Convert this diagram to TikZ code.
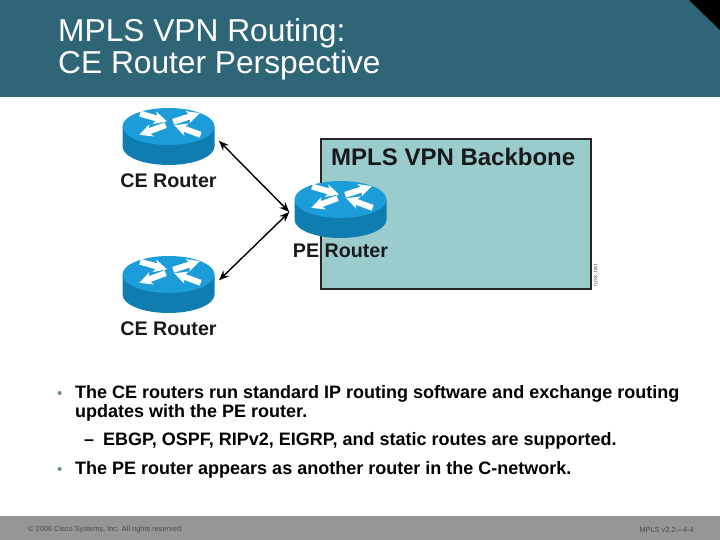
\documentclass[tikz,border=0pt]{standalone}
\usepackage{fontspec}
\setmainfont{Liberation Sans}
\usetikzlibrary{positioning,calc,arrows.meta}
\definecolor{headteal}{HTML}{2F6677}
\definecolor{footgray}{HTML}{969696}
\definecolor{footink}{HTML}{4A4A4A}
\definecolor{coreteal}{HTML}{9ACCCE}
\definecolor{routertop}{HTML}{1C9DD9}
\definecolor{routerside}{HTML}{0F7DB0}
\definecolor{dotgray}{HTML}{6F8A94}
\tikzset{
  routerbox/.style={minimum width=92pt, minimum height=58pt, inner sep=0pt},
  routerlabel/.style={font=\fontsize{19.7}{21}\selectfont\bfseries, inner sep=0pt, text=black!90},
  routerarrow/.style={fill=white, draw=none},
  link/.style={{Stealth[length=10pt,width=8pt]}-{Stealth[length=10pt,width=8pt]}, line width=1.4pt, shorten <=6pt, shorten >=0pt},
  bullettext/.style={font=\fontsize{18}{20}\selectfont\bfseries, anchor=base west, inner sep=0pt, text=black},
  bulletdot/.style={font=\fontsize{15}{15}\selectfont, anchor=base west, inner sep=0pt, text=dotgray},
  foottext/.style={font=\fontsize{7.4}{8}\selectfont, text=footink, anchor=west, inner sep=0pt},
}
% one white arrow on the router top, pointing along +x before rotation
\newcommand{\routerglyph}[3]{%
  \fill[routerarrow, shift={(#1,#2)}, rotate=#3]
    (-14,-3) -- (3,-3) -- (1,-6.5) -- (14,0) -- (1,6.5) -- (3,3) -- (-14,3) -- cycle;}
\newcommand{\router}[3]{%
  \node[routerbox] (#1) at (#2,#3) {};
  \begin{scope}[shift={(#2,#3)}]
    \fill[routerside] (-46,-10) -- (-46,10) arc[start angle=180, end angle=0, x radius=46, y radius=18.5]
      -- (46,-10) -- cycle;
    \fill[routertop] (0,-10) ellipse[x radius=46, y radius=18.5];
    \routerglyph{-15}{-19}{-16}
    \routerglyph{18}{-19}{18}
    \routerglyph{-16}{-6.5}{200}
    \routerglyph{19}{-6.5}{160}
  \end{scope}}

\begin{document}
\begin{tikzpicture}[x=1pt,y=-1pt]
  \useasboundingbox (0,0) rectangle (720,540);
  % Header and footer
  \fill[headteal] (0,0) rectangle (720,97);
  \fill[black] (689,0) -- (720,0) -- (720,30) -- cycle;
  \node[font=\fontsize{31.7}{32.5}\selectfont, text=white, align=left, anchor=north west, inner sep=0pt] (title) at (58,18)
    {MPLS VPN Routing:\\ CE Router Perspective};
  \fill[footgray] (0,516) rectangle (720,540);
  \node[foottext] (copyright) at (28,529.5) {© 2006 Cisco Systems, Inc. All rights reserved.};
  \node[foottext, anchor=east] (course) at (694,529.5) {MPLS v2.2—4-4};
  % Backbone
  \node[draw=black!85, fill=coreteal, line width=1.3pt, minimum width=270pt, minimum height=150pt, inner sep=0pt] (core) at (456,214) {};
  \node[font=\fontsize{24}{26}\selectfont\bfseries, text=black!90, anchor=base west, inner sep=0pt] (coretitle) at (331,166) {MPLS VPN Backbone};
  \node[font=\fontsize{5}{6}\selectfont, rotate=90, text=black!70, inner sep=0pt] (tag) at (596,275) {0203\_D61};
  % Routers
  \router{ceone}{168.5}{136.5}
  \router{cetwo}{168.5}{284.5}
  \router{pe}{340.5}{209.5}
  \node[routerlabel, below=7.5pt of ceone] (ceonelabel) {CE Router};
  \node[routerlabel, below=7.5pt of cetwo] (cetwolabel) {CE Router};
  \node[routerlabel, below=5pt of pe] (pelabel) {PE Router};
  \coordinate (pehub) at ($(pe.west)+(-5,2.5)$);
  \draw[link] (ceone.east) -- (pehub);
  \draw[link] (cetwo.east) -- (pehub);
  % Bullets
  \node[bulletdot] (dotone) at (57,398) {•};
  \node[bullettext] (lineone) at (75,398) {The CE routers run standard IP routing software and exchange routing};
  \node[bullettext] (linetwo) at (75,417.5) {updates with the PE router.};
  \node[bullettext] (dash) at (84,445.5) {–};
  \node[bullettext] (linedash) at (103,445.5) {EBGP, OSPF, RIPv2, EIGRP, and static routes are supported.};
  \node[bulletdot] (dottwo) at (57,474.5) {•};
  \node[bullettext] (linethree) at (75,474.5) {The PE router appears as another router in the C-network.};
\end{tikzpicture}
\end{document}
